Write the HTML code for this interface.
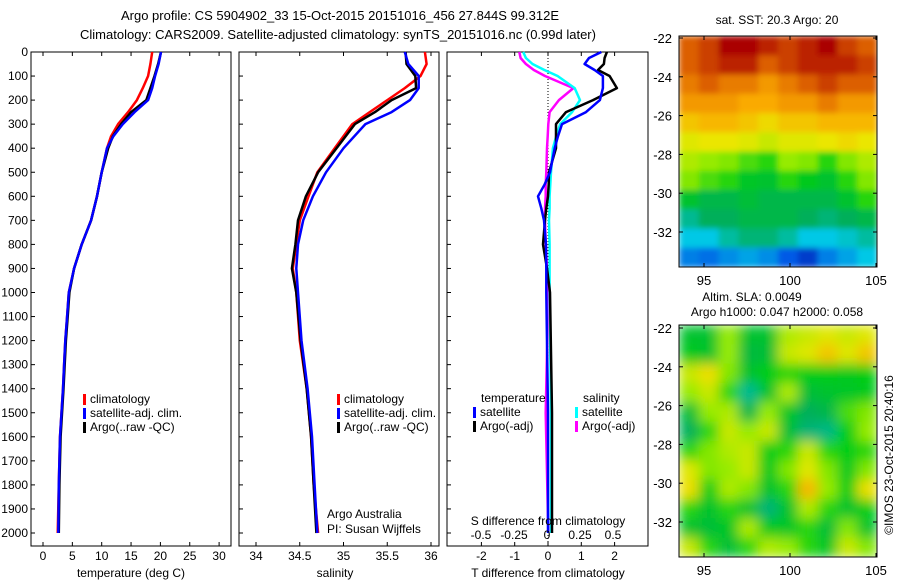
<!DOCTYPE html>
<html><head><meta charset="utf-8"><style>
body{margin:0;background:#fff;}
svg{display:block;font-family:"Liberation Sans",sans-serif;}
text{font-size:12px;fill:#000;}
</style></head><body>
<svg id="fig" width="900" height="580" viewBox="0 0 900 580" xmlns="http://www.w3.org/2000/svg">
<defs>
<filter id="blurS" x="0" y="0" width="1" height="1"><feGaussianBlur stdDeviation="3" edgeMode="duplicate"/></filter>
<filter id="blurL" x="0" y="0" width="1" height="1"><feGaussianBlur stdDeviation="6" edgeMode="duplicate"/></filter>
<clipPath id="clip1"><rect x="679" y="36" width="198" height="231"/></clipPath>
<clipPath id="clip2"><rect x="679" y="325" width="198" height="232"/></clipPath>
</defs>
<text x="340" y="20" text-anchor="middle" style="font-size:13px">Argo profile: CS 5904902_33 15-Oct-2015 20151016_456 27.844S 99.312E</text>
<text x="338" y="39" text-anchor="middle" style="font-size:13px">Climatology: CARS2009. Satellite-adjusted climatology: synTS_20151016.nc (0.99d later)</text>
<g id="p1"></g>
<g id="p2"></g>
<g id="p3"></g>
<g id="m1"></g>
<g id="m2"></g>
<text x="777" y="24" text-anchor="middle">sat. SST: 20.3 Argo: 20</text>
<text x="752" y="301" text-anchor="middle">Altim. SLA: 0.0049</text>
<text x="777" y="316" text-anchor="middle">Argo h1000: 0.047 h2000: 0.058</text>
<text transform="translate(893,455) rotate(-90)" text-anchor="middle">©IMOS 23-Oct-2015 20:40:16</text>
</svg>
<script>
// ---- data ----
const depthTicks=[0,100,200,300,400,500,600,700,800,900,1000,1100,1200,1300,1400,1500,1600,1700,1800,1900,2000];
const tTicks=[0,5,10,15,20,25,30];
const sTicks=[34,34.5,35,35.5,36];
const dTTicks=[-2,-1,0,1,2];
const dSTicks=[-0.5,-0.25,0,0.25,0.5];
const dSTickLabels=["-0.5","-0.25","0","0.25","0.5"];
const tDepth=[0,50,100,150,200,250,300,350,400,500,600,700,800,900,1000,1100,1200,1300,1400,1600,1800,2000];
const tClim=[18.6,18.3,17.9,17.0,16,14.5,12.8,11.6,10.9,10,9.2,8.2,6.6,5.3,4.4,4.1,3.8,3.6,3.4,2.9,2.7,2.5];
const tSat=[20.1,19.7,19.1,18.6,17.9,15.6,13.6,12.0,10.9,10,9.2,8.2,6.6,5.3,4.4,4.1,3.8,3.6,3.4,2.9,2.7,2.6];
const tArgo=[20.1,19.6,19.0,18.3,17.6,15.0,13.3,11.9,11.1,10,9.2,8.2,6.6,5.3,4.5,4.2,3.9,3.7,3.5,3.0,2.8,2.7];
const sDepth=[0,50,100,150,200,250,300,400,500,600,700,800,900,1000,1200,1400,1600,1800,2000];
const sClim=[35.93,35.95,35.88,35.7,35.5,35.3,35.1,34.9,34.7,34.6,34.5,34.46,34.42,34.46,34.5,34.58,34.63,34.66,34.71];
const sSat=[35.7,35.74,35.86,35.86,35.76,35.55,35.25,35.0,34.8,34.65,34.54,34.48,34.46,34.48,34.52,34.59,34.64,34.67,34.7];
const sArgo=[35.71,35.72,35.82,35.83,35.55,35.36,35.13,34.92,34.71,34.57,34.48,34.45,34.41,34.46,34.51,34.58,34.63,34.66,34.69];
const dDepth=[0,25,50,75,100,150,200,250,300,350,400,500,550,600,650,700,800,900,1000,1500,2000];
const dTSat=[1.6,1.23,1.1,1.4,1.65,1.65,1.56,1.14,0.42,0.3,0.2,0.06,-0.1,-0.3,-0.2,-0.12,-0.06,-0.05,-0.05,0,0];
const dTArgo=[1.77,1.7,1.68,1.5,1.85,2.07,1.35,0.54,0.24,0.24,0.24,0.03,0.02,0,-0.05,-0.09,-0.15,-0.03,0.06,0.12,0.12];
const dSSat=[-0.18,-0.16,-0.11,-0.02,0.08,0.21,0.25,0.19,0.1,0.07,0.045,0.03,0.025,0.02,0.02,0.015,0.02,0.02,0.02,0.03,0.03];
const dSArgo=[-0.21,-0.2,-0.16,-0.1,-0.015,0.2,0.09,0.02,0.01,0.005,0,-0.005,-0.01,-0.01,-0.015,-0.015,-0.01,0,0.01,-0.01,0.01];
const lonTicks=[95,100,105];
const latTicks=[-22,-24,-26,-28,-30,-32];
const sstGrid=[
[0.85,0.9,1,1,0.95,0.9,0.95,1,0.9,0.85],
[0.85,0.9,0.95,0.95,0.85,0.9,0.95,0.95,0.95,0.9],
[0.8,0.85,0.8,0.8,0.75,0.8,0.85,0.9,0.85,0.85],
[0.75,0.75,0.75,0.72,0.72,0.75,0.75,0.8,0.75,0.75],
[0.68,0.7,0.7,0.68,0.65,0.68,0.68,0.7,0.7,0.7],
[0.62,0.63,0.63,0.62,0.6,0.62,0.62,0.63,0.65,0.63],
[0.58,0.56,0.55,0.52,0.5,0.56,0.55,0.5,0.55,0.58],
[0.55,0.52,0.5,0.46,0.45,0.5,0.47,0.45,0.5,0.55],
[0.45,0.42,0.42,0.44,0.42,0.42,0.42,0.42,0.45,0.5],
[0.36,0.4,0.4,0.42,0.42,0.42,0.4,0.38,0.4,0.42],
[0.3,0.3,0.35,0.38,0.38,0.35,0.3,0.3,0.32,0.35],
[0.2,0.18,0.22,0.25,0.22,0.15,0.1,0.2,0.25,0.3]];
const slaGrid=[
[0.45,0.45,0.56,0.45,0.45,0.58,0.6,0.62,0.6,0.62],
[0.47,0.45,0.56,0.43,0.44,0.6,0.62,0.68,0.62,0.68],
[0.6,0.64,0.55,0.45,0.48,0.5,0.48,0.48,0.47,0.48],
[0.56,0.6,0.5,0.36,0.45,0.58,0.44,0.45,0.46,0.47],
[0.44,0.56,0.58,0.42,0.56,0.46,0.4,0.42,0.52,0.55],
[0.4,0.5,0.6,0.56,0.6,0.44,0.38,0.37,0.48,0.56],
[0.5,0.55,0.58,0.6,0.48,0.5,0.6,0.5,0.48,0.5],
[0.62,0.55,0.56,0.6,0.47,0.55,0.62,0.55,0.47,0.55],
[0.64,0.48,0.58,0.55,0.45,0.5,0.7,0.56,0.48,0.64],
[0.5,0.45,0.5,0.45,0.38,0.45,0.58,0.5,0.45,0.48],
[0.45,0.44,0.46,0.58,0.47,0.46,0.5,0.44,0.55,0.45],
[0.6,0.5,0.44,0.5,0.58,0.56,0.5,0.46,0.6,0.55]];
// ---- helpers ----
const NS="http://www.w3.org/2000/svg";
function mk(parent,tag,attrs,txt){const e=document.createElementNS(NS,tag);for(const k in attrs)e.setAttribute(k,attrs[k]);if(txt!==undefined)e.textContent=txt;parent.appendChild(e);return e;}
const Y0=52,YB=546;
const yD=d=>Y0+d*0.2405;
const xT=t=>43+t*5.87;
const xS=s=>256+(s-34)*87.5;
const xDT=t=>548+t*33.3;
const xDS=s=>547+s*132;
function frame(g,x0,x1){
  const r=mk(g,'rect',{x:x0,y:Y0,width:x1-x0,height:YB-Y0,fill:'none',stroke:'#000','stroke-width':1});
  
  depthTicks.forEach(d=>{mk(g,'line',{x1:x0,x2:x0+4,y1:yD(d),y2:yD(d),stroke:'#000'});});
}
function line(g,xs,ds,fx,color,name,w){
  const pts=xs.map((v,i)=>fx(v).toFixed(1)+','+yD(ds[i]).toFixed(1)).join(' ');
  const p=mk(g,'polyline',{points:pts,fill:'none',stroke:color,'stroke-width':w||2.5,'stroke-linejoin':'round'});
  
  
}
function xticks(g,ticks,labels,fx,y,top){
  ticks.forEach((t,i)=>{
    mk(g,'line',{x1:fx(t),x2:fx(t),y1:YB,y2:YB-4,stroke:'#000'});
    if(top)mk(g,'line',{x1:fx(t),x2:fx(t),y1:Y0,y2:Y0+4,stroke:'#000'});
    const e=mk(g,'text',{x:fx(t),y:y,'text-anchor':'middle'},labels[i]);
    
  });
}
function legend(g,x,y,color,label){
  mk(g,'rect',{x:x,y:y-9,width:3,height:11,fill:color});
  const e=mk(g,'text',{x:x+7,y:y},label);
  
}
// ---- panel 1 ----
const p1=document.getElementById('p1');
frame(p1,31,231);
depthTicks.forEach(d=>{const e=mk(p1,'text',{x:28,y:yD(d)+4,'text-anchor':'end'},String(d));
 });
xticks(p1,tTicks,tTicks.map(String),xT,560,true);
{const e=mk(p1,'text',{x:131,y:577,'text-anchor':'middle'},'temperature (deg C)');}
line(p1,tClim,tDepth,xT,'#f00','temp-climatology');
line(p1,tArgo,tDepth,xT,'#000','temp-argo');
line(p1,tSat,tDepth,xT,'#00f','temp-satellite');
legend(p1,83,403,'#f00','climatology');legend(p1,83,417,'#00f','satellite-adj. clim.');legend(p1,83,431,'#000','Argo(..raw -QC)');
// ---- panel 2 ----
const p2=document.getElementById('p2');
frame(p2,239,439);
xticks(p2,sTicks,sTicks.map(String),xS,560,true);
{const e=mk(p2,'text',{x:335,y:577,'text-anchor':'middle'},'salinity');}
line(p2,sClim,sDepth,xS,'#f00','sal-climatology');
line(p2,sArgo,sDepth,xS,'#000','sal-argo');
line(p2,sSat,sDepth,xS,'#00f','sal-satellite');
legend(p2,337,403,'#f00','climatology');legend(p2,337,417,'#00f','satellite-adj. clim.');legend(p2,337,431,'#000','Argo(..raw -QC)');
{const e=mk(p2,'text',{x:327,y:518},'Argo Australia');
 const f=mk(p2,'text',{x:327,y:533},'PI: Susan Wijffels');}
// ---- panel 3 ----
const p3=document.getElementById('p3');
frame(p3,447,648);
mk(p3,'line',{x1:548,x2:548,y1:Y0,y2:YB,stroke:'#000','stroke-dasharray':'1,2'});
line(p3,dSArgo,dDepth,xDS,'#f0f','sdiff-argo');
line(p3,dSSat,dDepth,xDS,'#0ff','sdiff-satellite');
line(p3,dTArgo,dDepth,xDT,'#000','tdiff-argo');
line(p3,dTSat,dDepth,xDT,'#00f','tdiff-satellite');
xticks(p3,dTTicks,dTTicks.map(String),xDT,560,true);
dSTicks.forEach((s,i)=>{const e=mk(p3,'text',{x:xDS(s),y:539,'text-anchor':'middle'},dSTickLabels[i]);});
{const e=mk(p3,'text',{x:548,y:525,'text-anchor':'middle'},'S difference from climatology');
 const f=mk(p3,'text',{x:548,y:577,'text-anchor':'middle'},'T difference from climatology');}
{const e=mk(p3,'text',{x:481,y:402},'temperature');
 const f=mk(p3,'text',{x:583,y:402},'salinity');}
legend(p3,473,416,'#00f','satellite');legend(p3,473,430,'#000','Argo(-adj)');
legend(p3,575,416,'#0ff','satellite');legend(p3,575,430,'#f0f','Argo(-adj)');
// ---- maps ----
const stops=[[0,[0,0,150]],[0.15,[0,90,230]],[0.3,[0,200,230]],[0.4,[0,175,90]],[0.48,[0,205,20]],[0.56,[150,235,0]],[0.63,[235,230,0]],[0.72,[250,170,0]],[0.85,[220,95,0]],[1,[170,0,0]]];
function cmap(v){for(let i=1;i<stops.length;i++){if(v<=stops[i][0]){const a=stops[i-1],b=stops[i],f=(v-a[0])/(b[0]-a[0]);return 'rgb('+a[1].map((c,k)=>Math.round(c+(b[1][k]-c)*f)).join(',')+')';}}return 'rgb(170,0,0)';}
function map(id,grid,y0,y1,latTop,filt,clip){
  const g=document.getElementById(id);const x0=679,x1=877;
  const outer=mk(g,'g',{'clip-path':'url(#'+clip+')'});
  const cells=mk(outer,'g',{filter:'url(#'+filt+')'});
  const rows=grid.length,cols=grid[0].length,cw=(x1-x0)/cols,ch=(y1-y0)/rows;
  grid.forEach((row,r)=>row.forEach((v,c)=>{
    const e=mk(cells,'rect',{x:(x0+c*cw).toFixed(2),y:(y0+r*ch).toFixed(2),width:(cw+0.6).toFixed(2),height:(ch+0.6).toFixed(2),fill:cmap(v)});
    
    
  }));
  mk(g,'rect',{x:x0,y:y0,width:x1-x0,height:y1-y0,fill:'none',stroke:'#000'});
  const xl=lon=>704+(lon-95)*17.2;
  lonTicks.forEach(l=>{mk(g,'line',{x1:xl(l),x2:xl(l),y1:y1,y2:y1-4,stroke:'#000'});mk(g,'line',{x1:xl(l),x2:xl(l),y1:y0,y2:y0+4,stroke:'#000'});
    const e=mk(g,'text',{x:xl(l),y:y1+18,'text-anchor':'middle',style:'font-size:13px'},String(l));});
  const yl=lat=>latTop+(-22-lat)*19.4;
  latTicks.forEach(l=>{mk(g,'line',{x1:x0,x2:x0+4,y1:yl(l),y2:yl(l),stroke:'#000'});mk(g,'line',{x1:x1,x2:x1-4,y1:yl(l),y2:yl(l),stroke:'#000'});
    const e=mk(g,'text',{x:672,y:yl(l)+5,'text-anchor':'end',style:'font-size:13px'},String(l));});
}
map('m1',sstGrid,36,267,38,'blurS','clip1');
map('m2',slaGrid,325,557,328,'blurL','clip2');
</script>
</body></html>
